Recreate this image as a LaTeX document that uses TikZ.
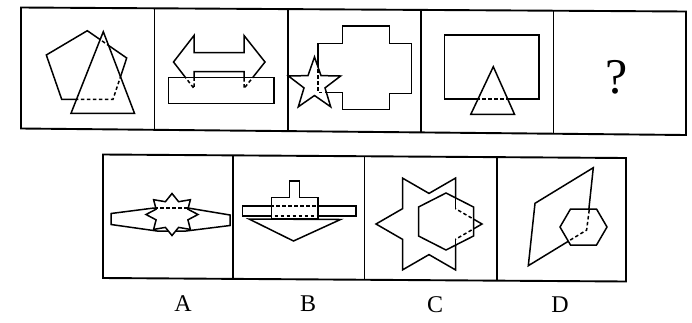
\documentclass[tikz,border=0pt]{standalone}
\usepackage{fontspec}
\setmainfont{Liberation Serif}
\begin{document}
\begin{tikzpicture}[x=1pt,y=-1pt,
  shp/.style={line width=1.5pt,line join=miter},
  hid/.style={line width=1.5pt,dash pattern=on 3.5pt off 2.5pt},
  frame/.style={line width=1.9pt,line join=miter},
  lab/.style={font=\fontsize{24}{28}\selectfont,inner sep=0pt}]
\useasboundingbox[fill=white] (0,0) rectangle (692,322);

% ---------- panel 1: pentagon behind triangle
\def\pentA{(87.3,30.7) -- (126.7,58) -- (113,99.3) -- (61.7,99.3) -- (46.3,55) -- cycle}
\def\triA{(103.3,31.7) -- (71,113.3) -- (134.5,113.3) -- cycle}
\draw[shp] \pentA;
\fill[white] \triA;
\begin{scope}\clip \triA; \draw[hid] \pentA; \end{scope}
\draw[shp] \triA;

% ---------- panel 2: double arrow behind rectangle
\def\arrB{(173.5,62) -- (194,35.5) -- (194,52.5) -- (244,52.5) -- (244,35.5) -- (265,62) -- (244,88.5) -- (244,71.5) -- (194,71.5) -- (194,88.5) -- cycle}
\def\recB{(168.5,77.5) rectangle (274,103.3)}
\draw[shp] \arrB;
\fill[white] \recB;
\begin{scope}\clip \recB; \draw[hid] \arrB; \end{scope}
\draw[shp] \recB;

% ---------- panel 3: cross behind star
\def\crossC{(342.3,26) -- (389.7,26) -- (389.7,43.3) -- (411.3,43.3) -- (411.3,93.3) -- (389.7,93.3) -- (389.7,109.3) -- (342.3,109.3) -- (342.3,92.7) -- (318,92.7) -- (318,43.3) -- (342.3,43.3) -- cycle}
\def\starC{(314.5,57) -- (308,75.6) -- (288.4,76) -- (304,87.9) -- (298.3,106.8) -- (314.5,95.5) -- (330.7,106.8) -- (325,87.9) -- (340.6,76) -- (321,75.6) -- cycle}
\draw[shp] \crossC;
\fill[white] \starC;
\begin{scope}\clip \starC; \draw[hid] \crossC; \end{scope}
\draw[shp] \starC;

% ---------- panel 4: rectangle behind triangle
\def\recD{(444.3,35) rectangle (539,99)}
\def\triD{(493.3,66.7) -- (470.8,114.3) -- (514.5,114.3) -- cycle}
\draw[shp] \recD;
\fill[white] \triD;
\begin{scope}\clip \triD; \draw[hid] \recD; \end{scope}
\draw[shp] \triD;

% ---------- question mark
\node[font=\fontsize{50}{56}\selectfont,inner sep=0pt] (q) at (617,77) {?};

% ---------- option A
\def\bandA{(111,213.5) -- (154,208) -- (188,208) -- (230,215) -- (230,225.5) -- (186,231) -- (157,231) -- (111,224.5) -- cycle}
\def\starA{(198,214.5) -- (187.9,209.2) -- (190.4,199.7) -- (178.6,201.7) -- (172,193.5) -- (165.4,201.7) -- (153.6,199.7) -- (156.1,209.2) -- (146,214.5) -- (156.1,219.8) -- (153.6,229.4) -- (165.4,227.4) -- (172,235.5) -- (178.6,227.4) -- (190.4,229.4) -- (187.9,219.8) -- cycle}
\draw[shp] \bandA;
\fill[white] \starA;
\begin{scope}\clip \starA; \draw[hid] (154,208) -- (188,208); \end{scope}
\draw[shp] \starA;

% ---------- option B
\def\barB{(242.5,206) rectangle (356,216)}
\def\blkB{(271.5,219) -- (271.5,197.5) -- (289.5,197.5) -- (289.5,181) -- (299.5,181) -- (299.5,197.5) -- (318,197.5) -- (318,219) -- cycle}
\draw[shp] \barB;
\fill[white] \blkB;
\begin{scope}\clip \blkB; \draw[hid] \barB; \end{scope}
\draw[shp] \blkB;
\draw[shp] (249,219) -- (340.5,219.5) -- (293.5,241) -- cycle;

% ---------- option C
\def\hexC{(418.5,207) -- (446,193) -- (473.5,207) -- (473.5,236) -- (446,250) -- (418.5,236) -- cycle}
\draw[shp] (482,224) -- (455.5,208.7) -- (455.5,178.1) -- (429,193.4) -- (402.5,178.1) -- (402.5,208.7) -- (376,224) -- (402.5,239.3) -- (402.5,269.9) -- (429,254.6) -- (455.5,269.9) -- (455.5,239.3) -- cycle;
\fill[white] \hexC;
\begin{scope}\clip \hexC;
  \draw[hid] (482,224) -- (455.5,208.7);
  \draw[hid] (482,224) -- (455.5,239.3);
  \draw[shp] (455.5,208.7) -- (455.5,178.1);
  \draw[shp] (455.5,239.3) -- (455.5,269.9);
\end{scope}
\draw[shp] \hexC;

% ---------- option D
\def\hexD{(560,227) -- (570.5,209) -- (596.5,209) -- (607,227) -- (596.5,245) -- (570.5,245) -- cycle}
\coordinate (d1) at (593.3,167.7);
\coordinate (d2) at (535,203.3);
\coordinate (d3) at (528.3,265.7);
\coordinate (d4) at (586.6,230.1);
\draw[shp] (d4) -- (d1) -- (d2) -- (d3) -- cycle;
\fill[white] \hexD;
\draw[hid] (589.2,210) -- (d4) -- (568.5,241.1);
\draw[shp] \hexD;

% ---------- frames (top row)
\draw[frame] (21,7.5) -- (686,11.5) -- (686,135) -- (21,128.5) -- cycle;
\draw[frame] (154.5,8.3) -- (154.5,129.8);
\draw[frame] (288,9.1) -- (288,131.1);
\draw[frame] (421,9.9) -- (421,132.4);
\draw[frame] (553.5,10.7) -- (553.5,133.7);
% ---------- frames (bottom row)
\draw[frame] (103,154.5) -- (626,158) -- (626,281.5) -- (103,278) -- cycle;
\draw[frame] (233,155.4) -- (233,278.9);
\draw[frame] (364.5,156.3) -- (364.5,279.8);
\draw[frame] (497,157.1) -- (497,280.6);

% ---------- labels
\node[lab] (la) at (183,304) {A};
\node[lab] (lb) at (308,304) {B};
\node[lab] (lc) at (435,305) {C};
\node[lab] (ld) at (560,305) {D};
\end{tikzpicture}
\end{document}
